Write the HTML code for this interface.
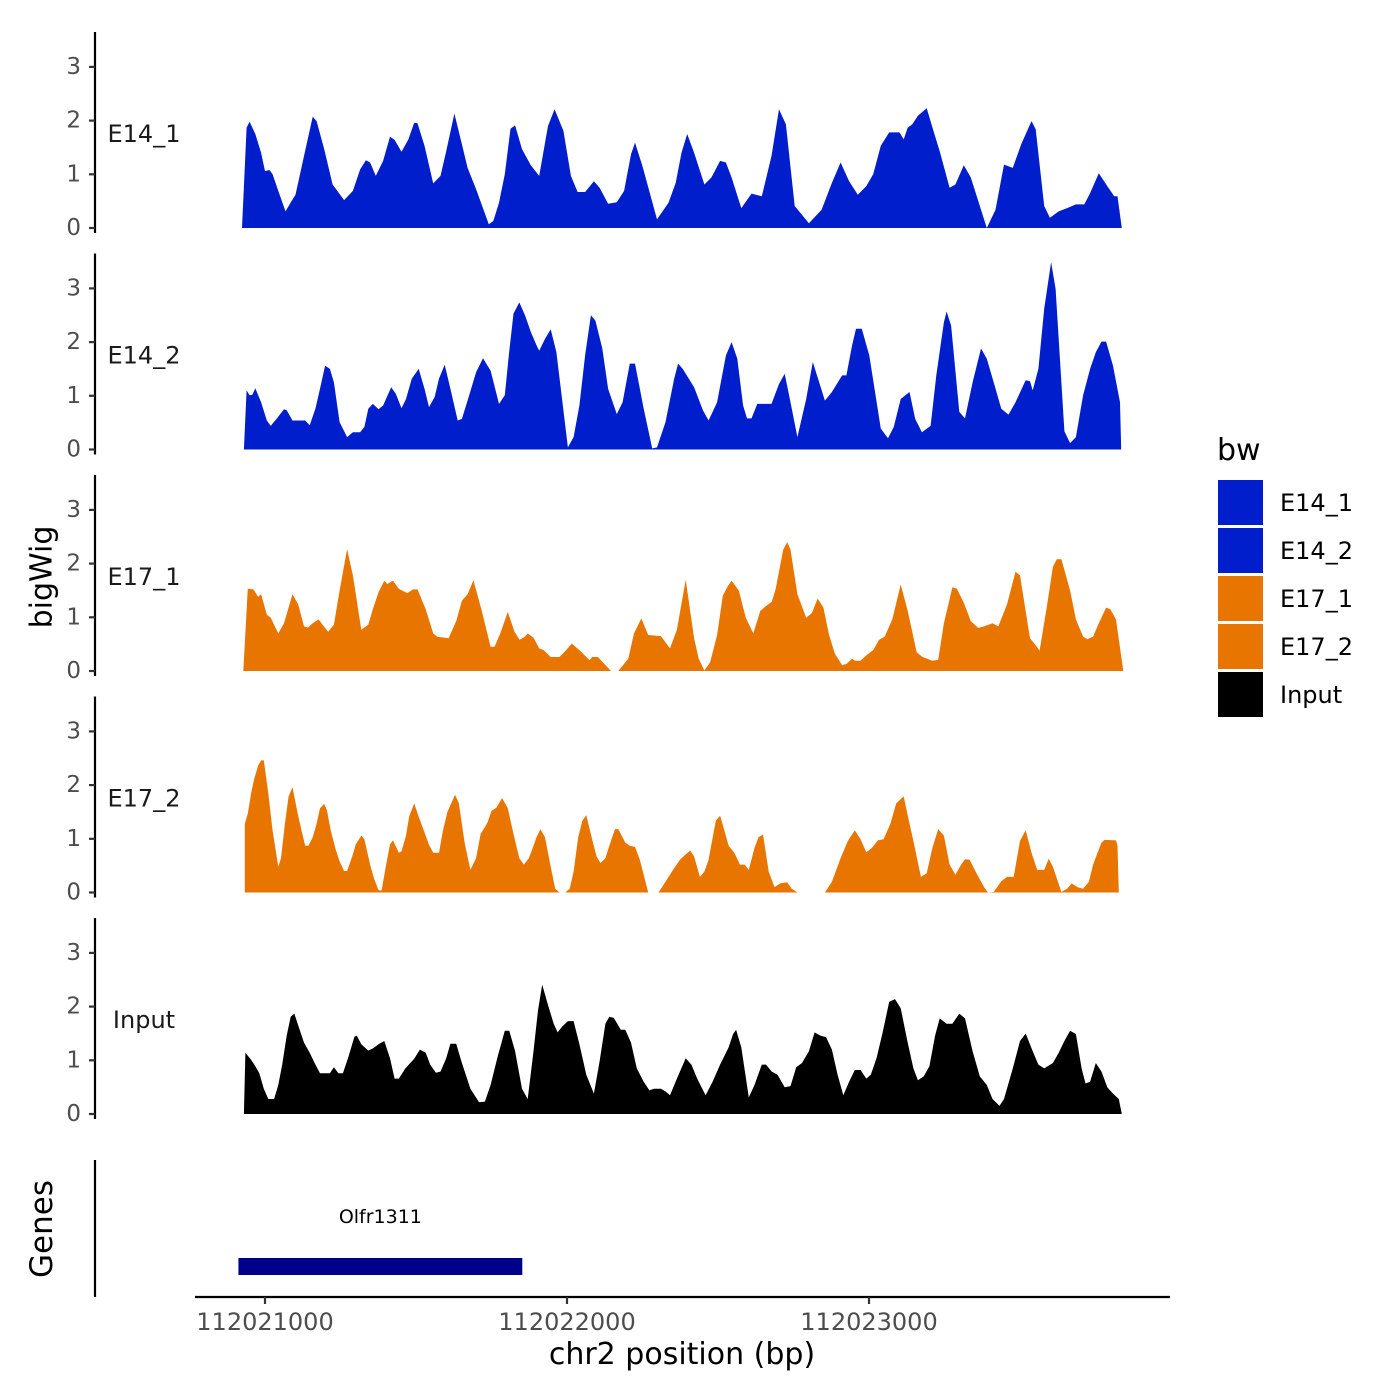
<!DOCTYPE html>
<html><head><meta charset="utf-8"><style>
html,body{margin:0;padding:0;background:#fff;}
svg{display:block;font-family:"DejaVu Sans","Liberation Sans",sans-serif;}
</style></head><body>
<svg id="chart" width="1400" height="1400" viewBox="0 0 1400 1400" xmlns="http://www.w3.org/2000/svg">
<rect x="0" y="0" width="1400" height="1400" fill="#fff"/>
<g id="panels"></g>
<text x="42" y="577" transform="rotate(-90 42 577)" text-anchor="middle" dominant-baseline="central" font-size="30" fill="#000">bigWig</text>
<line x1="95" y1="1160" x2="95" y2="1297" stroke="#000" stroke-width="2.2"/>
<text x="42" y="1229" transform="rotate(-90 42 1229)" text-anchor="middle" dominant-baseline="central" font-size="31" fill="#000">Genes</text>
<g id="genes"></g>
<line x1="195" y1="1297" x2="1170" y2="1297" stroke="#000" stroke-width="2.2"/>
<g id="xticks"></g>
<text x="682" y="1364" text-anchor="middle" font-size="30" fill="#000">chr2 position (bp)</text>
<g id="legend">
<text x="1217" y="460" font-size="30" fill="#000">bw</text>
</g>
</svg>
<script>
// positions are bp offsets from 112020000; null marks gaps
const e14_1_pos=[924,939,949,968,987,1000,1015,1025,1044,1068,1091,1101,1129,1158,1171,1196,1224,1262,1291,1315,1334,1348,1367,1391,1414,1429,1452,1475,1494,1505,1528,1557,1581,1600,1627,1652,1671,1699,1741,1756,1775,1794,1813,1828,1851,1880,1908,1937,1959,1988,2013,2035,2060,2089,2108,2136,2165,2189,2212,2225,2250,2298,2336,2360,2379,2398,2421,2455,2478,2507,2526,2545,2577,2611,2645,2677,2702,2725,2754,2801,2843,2877,2906,2934,2963,2991,3014,3039,3067,3101,3115,3128,3143,3162,3191,3215,3234,3267,3286,3314,3337,3390,3419,3447,3476,3504,3538,3552,3580,3599,3628,3656,3685,3713,3732,3761,3789,3812,3823,3837];
const e14_1_val=[0,1.87,1.98,1.75,1.40,1.06,1.08,1.00,0.69,0.31,0.53,0.62,1.34,2.07,1.99,1.47,0.81,0.52,0.69,1.09,1.26,1.22,0.97,1.25,1.70,1.64,1.42,1.65,1.96,1.95,1.53,0.83,0.97,1.43,2.13,1.56,1.12,0.72,0.07,0.13,0.47,1.00,1.85,1.91,1.47,1.17,0.97,1.90,2.21,1.81,0.97,0.67,0.67,0.87,0.75,0.45,0.48,0.69,1.37,1.59,1.15,0.16,0.47,0.84,1.40,1.75,1.40,0.81,0.94,1.25,1.22,0.94,0.37,0.64,0.59,1.34,2.21,1.93,0.41,0.09,0.34,0.84,1.22,0.87,0.62,0.78,1.00,1.53,1.78,1.78,1.65,1.87,1.93,2.09,2.23,1.78,1.43,0.75,0.81,1.17,0.94,0,0.34,1.18,1.12,1.56,1.99,1.84,0.41,0.19,0.31,0.37,0.44,0.44,0.65,1.02,0.78,0.59,0.59,0];
const e14_2_pos=[930,939,949,958,968,987,1006,1019,1038,1063,1072,1091,1133,1148,1167,1182,1199,1215,1228,1247,1272,1291,1315,1329,1342,1357,1376,1391,1418,1433,1452,1467,1486,1509,1528,1543,1562,1576,1595,1614,1638,1652,1676,1699,1722,1747,1775,1794,1809,1823,1842,1861,1880,1899,1908,1927,1946,1965,2003,2022,2041,2060,2079,2094,2117,2136,2165,2184,2208,2225,2254,2282,2298,2326,2355,2368,2383,2421,2450,2469,2497,2526,2545,2564,2583,2596,2611,2630,2677,2702,2721,2740,2763,2792,2814,2835,2854,2877,2911,2925,2944,2957,2976,3001,3039,3063,3082,3105,3134,3153,3175,3204,3223,3248,3257,3272,3299,3318,3343,3371,3390,3413,3438,3462,3485,3519,3533,3542,3561,3580,3603,3618,3647,3666,3685,3709,3732,3751,3770,3785,3808,3831,3835];
const e14_2_val=[0,1.10,1.01,1.02,1.14,0.88,0.54,0.44,0.57,0.75,0.73,0.54,0.54,0.45,0.76,1.13,1.56,1.50,1.25,0.51,0.23,0.32,0.32,0.42,0.76,0.85,0.75,0.82,1.16,1.04,0.77,0.94,1.32,1.50,1.13,0.79,0.98,1.32,1.58,1.13,0.54,0.57,1.01,1.44,1.70,1.47,0.85,1.01,1.84,2.53,2.74,2.50,2.19,1.94,1.84,2.06,2.24,1.81,0.04,0.23,0.82,1.75,2.50,2.40,1.88,1.13,0.66,0.88,1.60,1.60,0.76,0.02,0.04,0.51,1.32,1.60,1.50,1.16,0.73,0.54,0.88,1.75,2.00,1.69,0.82,0.58,0.58,0.85,0.85,1.22,1.41,0.88,0.23,0.94,1.63,1.25,0.91,1.07,1.38,1.38,1.94,2.25,2.25,1.75,0.39,0.21,0.42,0.94,1.07,0.57,0.32,0.44,1.38,2.37,2.57,2.31,0.70,0.58,1.25,1.88,1.69,1.25,0.76,0.65,0.88,1.29,1.27,1.10,1.50,2.62,3.49,2.99,0.34,0.12,0.23,1.01,1.50,1.81,2.01,2.01,1.56,0.88,0];
const e17_1_pos=[928,943,962,977,987,1006,1019,1044,1063,1091,1110,1129,1142,1158,1177,1209,1228,1247,1272,1291,1319,1342,1357,1376,1395,1405,1424,1443,1471,1490,1505,1532,1557,1570,1608,1633,1652,1671,1690,1718,1747,1760,1779,1804,1826,1843,1861,1870,1889,1908,1923,1946,1975,1994,2016,2041,2075,2083,2102,2146,null,2170,2203,2222,2246,2269,2311,2341,2364,2393,2421,2436,2455,2474,2497,2516,2531,2545,2569,2592,2617,2640,2659,2678,2691,2716,2729,2740,2763,2792,2811,2830,2849,2868,2887,2911,2925,2944,2953,2972,2991,3014,3033,3052,3077,3105,3128,3158,3177,3210,3229,3248,3276,3291,3314,3337,3362,3381,3409,3428,3457,3485,3500,3533,3552,3565,3590,3609,3622,3637,3666,3685,3709,3723,3742,3761,3785,3799,3818,3842];
const e17_1_val=[0,1.53,1.52,1.38,1.43,1.05,0.99,0.70,0.89,1.43,1.24,0.83,0.81,0.89,0.96,0.73,0.86,1.50,2.27,1.78,0.77,0.86,1.15,1.47,1.68,1.62,1.68,1.53,1.45,1.52,1.52,1.15,0.70,0.64,0.61,0.93,1.31,1.43,1.69,1.12,0.45,0.45,0.70,1.10,0.73,0.58,0.64,0.70,0.62,0.42,0.39,0.26,0.26,0.37,0.51,0.39,0.20,0.26,0.26,0,null,0,0.23,0.70,0.98,0.67,0.65,0.42,0.77,1.70,0.61,0.23,0.01,0.16,0.67,1.40,1.57,1.68,1.50,0.99,0.70,1.12,1.21,1.29,1.53,2.26,2.40,2.26,1.43,0.99,1.08,1.35,1.18,0.67,0.32,0.11,0.13,0.23,0.19,0.19,0.29,0.39,0.58,0.64,0.96,1.61,1.12,0.35,0.26,0.19,0.21,0.89,1.56,1.53,1.27,0.93,0.80,0.83,0.89,0.83,1.24,1.85,1.78,0.61,0.48,0.38,1.24,1.94,2.08,2.08,1.50,0.96,0.64,0.59,0.64,0.89,1.18,1.15,0.96,0];
const e17_2_pos=[933,933,943,954,964,977,987,996,1011,1025,1044,1053,1066,1078,1091,1106,1120,1133,1144,1158,1171,1182,1196,1205,1218,1234,1247,1262,1272,1291,1300,1319,1329,1348,1361,1376,1386,1399,1414,1424,1443,1452,1467,1477,1494,1509,1528,1543,1557,1576,1589,1604,1619,1629,1642,1661,1680,1699,1714,1728,1737,1750,1766,1785,1804,1823,1842,1857,1874,1889,1899,1912,1927,1946,1961,1975,null,1994,2009,2022,2037,2051,2064,2083,2098,2111,2127,2140,2159,2170,2193,2208,2225,2241,2254,2269,null,2303,2326,2351,2374,2393,2408,2421,2440,2455,2469,2478,2493,2507,2520,2535,2554,2573,2588,2602,2621,2634,2649,2668,2687,2706,2729,2744,2763,null,2854,2877,2906,2930,2953,2972,2991,3010,3029,3048,3071,3090,3115,3128,3147,3172,3191,3210,3229,3248,3267,3286,3305,3318,3333,3356,3381,3394,3413,3438,3457,3479,3500,3519,3538,3557,3580,3595,3609,3637,3656,3671,3690,3709,3728,3742,3761,3770,3780,3818,3823,3827];
const e17_2_val=[0,1.28,1.47,1.85,2.11,2.36,2.46,2.46,1.85,1.15,0.48,0.64,1.28,1.79,1.96,1.53,1.18,0.87,0.87,1.03,1.28,1.57,1.65,1.53,1.15,0.80,0.58,0.40,0.40,0.71,0.89,1.06,0.99,0.52,0.26,0.04,0.04,0.45,0.90,0.97,0.74,0.77,1.06,1.41,1.66,1.41,1.12,0.89,0.74,0.74,1.15,1.50,1.69,1.82,1.66,0.93,0.42,0.64,1.09,1.22,1.31,1.52,1.58,1.76,1.57,1.09,0.64,0.52,0.64,0.87,1.03,1.18,1.03,0.48,0.07,0,null,0,0.07,0.39,1.03,1.34,1.44,0.99,0.67,0.55,0.64,0.87,1.18,1.18,0.93,0.87,0.85,0.61,0.33,0,null,0,0.20,0.42,0.61,0.71,0.78,0.67,0.29,0.39,0.61,0.90,1.34,1.43,1.18,0.87,0.74,0.52,0.52,0.42,0.83,1.03,1.08,0.39,0.10,0.17,0.19,0.07,0,null,0,0.20,0.64,0.96,1.16,0.99,0.75,0.83,0.97,0.99,1.28,1.66,1.79,1.44,0.96,0.29,0.36,0.83,1.18,1.06,0.52,0.33,0.52,0.62,0.61,0.36,0.10,0,0.01,0.21,0.29,0.29,0.96,1.16,0.74,0.42,0.42,0.63,0.48,0.01,0.07,0.17,0.10,0.07,0.20,0.52,0.80,0.93,0.98,0.97,0.87,0];
const input_pos=[930,935,954,968,981,996,1011,1030,1044,1057,1072,1085,1097,1110,1129,1148,1167,1182,1215,1228,1243,1258,1277,1296,1304,1319,1342,1357,1376,1395,1414,1429,1443,1465,1481,1494,1513,1532,1547,1566,1581,1600,1614,1633,1652,1680,1709,1728,1747,1771,1794,1809,1828,1851,1870,1889,1904,1918,1937,1956,1969,1984,2003,2022,2041,2064,2089,2108,2127,2140,2155,2178,2193,2212,2231,2254,2273,2288,2311,2326,2341,2364,2393,2412,2431,2459,2482,2507,2535,2550,2560,2577,2602,2621,2645,2659,2678,2697,2721,2740,2759,2778,2801,2820,2839,2858,2877,2896,2915,2934,2953,2972,2991,3006,3025,3044,3067,3086,3105,3128,3147,3162,3181,3200,3219,3234,3257,3276,3299,3318,3343,3367,3390,3409,3432,3447,3476,3500,3519,3542,3561,3580,3609,3628,3647,3666,3685,3704,3717,3732,3751,3770,3789,3808,3827,3837];
const input_val=[0,1.14,1.01,0.89,0.76,0.47,0.28,0.28,0.54,0.92,1.46,1.81,1.87,1.65,1.33,1.14,0.92,0.76,0.76,0.87,0.76,0.76,1.08,1.44,1.46,1.30,1.18,1.22,1.30,1.36,1.04,0.66,0.66,0.85,0.95,1.03,1.20,1.14,0.92,0.77,0.79,1.04,1.31,1.31,0.95,0.47,0.22,0.23,0.54,1.08,1.55,1.55,1.17,0.47,0.28,1.17,1.93,2.41,2.03,1.68,1.52,1.63,1.73,1.73,1.30,0.73,0.38,0.98,1.68,1.81,1.79,1.57,1.57,1.33,0.85,0.60,0.44,0.47,0.47,0.42,0.35,0.66,1.04,0.92,0.66,0.35,0.60,0.92,1.24,1.49,1.57,1.24,0.31,0.54,0.92,0.92,0.79,0.73,0.50,0.52,0.87,0.95,1.17,1.52,1.46,1.43,1.20,0.73,0.35,0.60,0.82,0.82,0.66,0.73,1.04,1.49,2.09,2.14,1.97,1.33,0.85,0.63,0.70,0.89,1.46,1.78,1.68,1.68,1.87,1.78,1.17,0.70,0.54,0.28,0.15,0.28,0.85,1.36,1.50,1.17,0.92,0.85,0.95,1.14,1.36,1.55,1.49,0.85,0.57,0.60,0.95,0.79,0.50,0.38,0.28,0];
const track_names=["E14_1","E14_2","E17_1","E17_2","Input"];
const track_colors=["#001ECC","#001ECC","#E87500","#E87500","#000000"];
const track_pos=[e14_1_pos,e14_2_pos,e17_1_pos,e17_2_pos,input_pos];
const track_val=[e14_1_val,e14_2_val,e17_1_val,e17_2_val,input_val];
const y_ticks=[0,1,2,3];
const x_ticks=[112021000,112022000,112023000];
const gene_name="Olfr1311";
const gene_start=112020912;
const gene_end=112021852;

const NS="http://www.w3.org/2000/svg";
function mk(tag,attrs,parent){const e=document.createElementNS(NS,tag);for(const k in attrs)e.setAttribute(k,attrs[k]);parent.appendChild(e);return e;}
function xs(bp){return 265+(bp-1000)*0.302;}        // bp offset -> px
function xg(bp){return 265+(bp-112021000)*0.302;}   // absolute bp -> px
const panelZero=[228,449.5,671,892.5,1114];
const unit=53.7;
function ys(i,v){return panelZero[i]-v*unit;}

const panels=document.getElementById('panels');
track_names.forEach((name,i)=>{
  const g=mk('g',{},panels);
  
  
  const z=panelZero[i];
  const ax=mk('line',{x1:95,y1:z-196,x2:95,y2:z+5,stroke:'#000','stroke-width':2.2},g);
  
  
  y_ticks.forEach(t=>{
    const tl=mk('line',{x1:89,y1:ys(i,t),x2:95,y2:ys(i,t),stroke:'#333','stroke-width':2.2},g);
    
    
    const tx=mk('text',{x:81,y:ys(i,t),'text-anchor':'end','dominant-baseline':'central','font-size':23,fill:'#4d4d4d'},g);
    
    
    tx.textContent=t;
  });
  const lab=mk('text',{x:144,y:z-94,'text-anchor':'middle','dominant-baseline':'central','font-size':24,fill:'#1a1a1a'},g);
  
  
  lab.textContent=name;
  const P=track_pos[i],V=track_val[i];
  let d='',seg=[];
  function flush(){
    if(seg.length<2){seg=[];return;}
    d+='M'+xs(seg[0][0]).toFixed(1)+','+z;
    seg.forEach(p=>{d+='L'+xs(p[0]).toFixed(1)+','+ys(i,p[1]).toFixed(1);});
    d+='L'+xs(seg[seg.length-1][0]).toFixed(1)+','+z+'Z';
    seg=[];
  }
  for(let k=0;k<P.length;k++){
    if(P[k]===null||V[k]===null){flush();continue;}
    seg.push([P[k],V[k]]);
  }
  flush();
  const area=mk('path',{d:d,fill:track_colors[i]},g);
  
  
});

const genes=document.getElementById('genes');
const gb=mk('rect',{x:xg(gene_start),y:1258,width:xg(gene_end)-xg(gene_start),height:17,fill:'#00008B'},genes);


const gl=mk('text',{x:(xg(gene_start)+xg(gene_end))/2,y:1223,'text-anchor':'middle','font-size':19,fill:'#000'},genes);


gl.textContent=gene_name;

const xt=document.getElementById('xticks');
x_ticks.forEach(t=>{
  const l=mk('line',{x1:xg(t),y1:1297,x2:xg(t),y2:1304,stroke:'#333','stroke-width':2.2},xt);
  
  
  const tx=mk('text',{x:xg(t),y:1330,'text-anchor':'middle','font-size':24,fill:'#4d4d4d'},xt);
  
  
  tx.textContent=t;
});

const lg=document.getElementById('legend');
track_names.forEach((name,i)=>{
  const y=480+i*48;
  const r=mk('rect',{x:1218,y:y,width:45,height:45,fill:track_colors[i]},lg);
  
  
  const t=mk('text',{x:1280,y:y+23,'dominant-baseline':'central','font-size':24,fill:'#000'},lg);
  
  
  t.textContent=name;
});
</script>
</body></html>
